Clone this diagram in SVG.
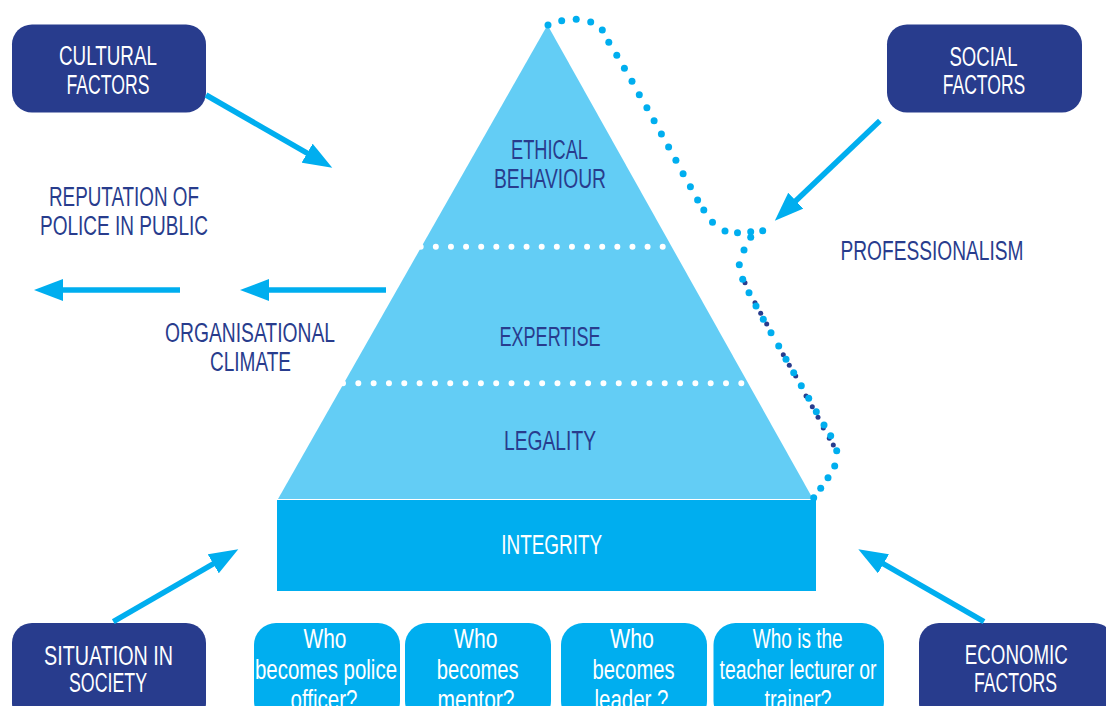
<svg xmlns="http://www.w3.org/2000/svg" width="1106" height="706" viewBox="0 0 1106 706">
<style>
text{font-family:"Liberation Sans",Arial,sans-serif;font-size:27px;text-anchor:middle}
.w{fill:#ffffff}
.n{fill:#283C8D}
.nb{fill:#283C8D}
.qb{fill:#00AEEF}
.arr{stroke:#00AEEF;stroke-width:5.5;fill:none;marker-end:url(#ah)}
.wd{stroke:#ffffff;stroke-width:6;stroke-linecap:round;fill:none}
.ld{fill:#00AEEF}
.dd{fill:#283C8D}
</style>
<defs>
<marker id="ah" markerUnits="userSpaceOnUse" markerWidth="30" markerHeight="22" refX="1" refY="11" orient="auto">
<path d="M0,0 L29,11 L0,22 z" fill="#00AEEF"/>
</marker>
</defs>
<rect width="1106" height="706" fill="#ffffff"/>

<g id="pyramid">
<polygon points="547.5,25 278,499 813,499" fill="#63CDF5"/>
<path class="wd" d="M420.7,246.7 h242.3" stroke-dasharray="0 15.125"/>
<path class="wd" d="M343,383.3 h398.6" stroke-dasharray="0 15.32"/>
<text class="n" x="549.5" y="159" textLength="77" lengthAdjust="spacingAndGlyphs">ETHICAL</text>
<text class="n" x="550" y="188" textLength="112" lengthAdjust="spacingAndGlyphs">BEHAVIOUR</text>
<text class="n" x="550" y="345.5" textLength="101" lengthAdjust="spacingAndGlyphs">EXPERTISE</text>
<text class="n" x="550" y="450" textLength="92" lengthAdjust="spacingAndGlyphs">LEGALITY</text>
</g>

<g id="integrity">
<rect x="277" y="500" width="539" height="91" fill="#00AEEF"/>
<text class="w" x="551.7" y="554" textLength="101" lengthAdjust="spacingAndGlyphs">INTEGRITY</text>
</g>

<g id="bracket">
<circle class="dd" cx="745" cy="282.7" r="2.5"/>
<circle class="dd" cx="755" cy="302.7" r="2.5"/>
<circle class="dd" cx="760.7" cy="313.3" r="2.5"/>
<circle class="dd" cx="766.7" cy="324" r="2.5"/>
<circle class="dd" cx="783.3" cy="354.7" r="2.5"/>
<circle class="dd" cx="789.3" cy="365.3" r="2.5"/>
<circle class="dd" cx="795.7" cy="376" r="2.5"/>
<circle class="dd" cx="806" cy="396" r="2.5"/>
<circle class="dd" cx="812.3" cy="406.7" r="2.5"/>
<circle class="dd" cx="818" cy="417.3" r="2.5"/>
<circle class="dd" cx="823.3" cy="428" r="2.5"/>
<circle class="dd" cx="829.3" cy="438.3" r="2.5"/>
<circle class="dd" cx="833.3" cy="445" r="2.5"/>
<circle class="ld" cx="548" cy="25" r="3.5"/>
<circle class="ld" cx="561.7" cy="20.7" r="3.5"/>
<circle class="ld" cx="576.2" cy="19.3" r="3.5"/>
<circle class="ld" cx="590.7" cy="22" r="3.5"/>
<circle class="ld" cx="602.3" cy="30" r="3.5"/>
<circle class="ld" cx="608.8" cy="42.3" r="3.5"/>
<circle class="ld" cx="616.8" cy="55.3" r="3.5"/>
<circle class="ld" cx="624.4" cy="68.3" r="3.5"/>
<circle class="ld" cx="632" cy="81.3" r="3.5"/>
<circle class="ld" cx="639.3" cy="94.7" r="3.5"/>
<circle class="ld" cx="646.9" cy="107.7" r="3.5"/>
<circle class="ld" cx="654.1" cy="120.7" r="3.5"/>
<circle class="ld" cx="661.4" cy="134" r="3.5"/>
<circle class="ld" cx="668.6" cy="147" r="3.5"/>
<circle class="ld" cx="675.9" cy="160.3" r="3.5"/>
<circle class="ld" cx="683.1" cy="173.7" r="3.5"/>
<circle class="ld" cx="690.4" cy="186.7" r="3.5"/>
<circle class="ld" cx="697.6" cy="200" r="3.5"/>
<circle class="ld" cx="703.8" cy="210" r="3.5"/>
<circle class="ld" cx="712.5" cy="222.3" r="3.5"/>
<circle class="ld" cx="725" cy="231" r="3.5"/>
<circle class="ld" cx="737.5" cy="232.7" r="3.5"/>
<circle class="ld" cx="750.7" cy="231.7" r="3.5"/>
<circle class="ld" cx="762.7" cy="230.7" r="3.5"/>
<circle class="ld" cx="750.7" cy="237.3" r="3.5"/>
<circle class="ld" cx="744" cy="250" r="3.5"/>
<circle class="ld" cx="739.3" cy="264.7" r="3.5"/>
<circle class="ld" cx="742.7" cy="279.3" r="3.5"/>
<circle class="ld" cx="749" cy="292.7" r="3.5"/>
<circle class="ld" cx="756" cy="306" r="3.5"/>
<circle class="ld" cx="763.3" cy="319.3" r="3.5"/>
<circle class="ld" cx="771" cy="332.7" r="3.5"/>
<circle class="ld" cx="778.7" cy="346" r="3.5"/>
<circle class="ld" cx="786" cy="359.3" r="3.5"/>
<circle class="ld" cx="793.7" cy="372.7" r="3.5"/>
<circle class="ld" cx="801.3" cy="385.7" r="3.5"/>
<circle class="ld" cx="808.7" cy="398.3" r="3.5"/>
<circle class="ld" cx="816.3" cy="411.7" r="3.5"/>
<circle class="ld" cx="824" cy="425" r="3.5"/>
<circle class="ld" cx="830.7" cy="435.7" r="3.5"/>
<circle class="ld" cx="836.7" cy="450.7" r="3.5"/>
<circle class="ld" cx="834.7" cy="466" r="3.5"/>
<circle class="ld" cx="828" cy="477.7" r="3.5"/>
<circle class="ld" cx="820.7" cy="488.3" r="3.5"/>
<circle class="ld" cx="813.7" cy="497.7" r="3.5"/>
</g>

<g id="cultural">
<rect class="nb" x="12" y="24.5" width="194" height="88" rx="20"/>
<text class="w" x="108" y="65" textLength="98" lengthAdjust="spacingAndGlyphs">CULTURAL</text>
<text class="w" x="108" y="94" textLength="83" lengthAdjust="spacingAndGlyphs">FACTORS</text>
</g>

<g id="social">
<rect class="nb" x="887" y="24.5" width="195" height="88" rx="20"/>
<text class="w" x="983.5" y="65.5" textLength="68" lengthAdjust="spacingAndGlyphs">SOCIAL</text>
<text class="w" x="984" y="94.3" textLength="82.5" lengthAdjust="spacingAndGlyphs">FACTORS</text>
</g>

<g id="situation">
<rect class="nb" x="12" y="623" width="194" height="100" rx="20"/>
<text class="w" x="108.5" y="665" textLength="129" lengthAdjust="spacingAndGlyphs">SITUATION IN</text>
<text class="w" x="108" y="691.7" textLength="78" lengthAdjust="spacingAndGlyphs">SOCIETY</text>
</g>

<g id="economic">
<rect class="nb" x="919" y="623" width="195" height="100" rx="20"/>
<text class="w" x="1016.3" y="664" textLength="103" lengthAdjust="spacingAndGlyphs">ECONOMIC</text>
<text class="w" x="1015.5" y="691.7" textLength="83" lengthAdjust="spacingAndGlyphs">FACTORS</text>
</g>

<g id="professionalism">
<text class="n" x="932" y="260" textLength="183" lengthAdjust="spacingAndGlyphs">PROFESSIONALISM</text>
</g>

<g id="reputation">
<text class="n" x="124" y="206" textLength="150" lengthAdjust="spacingAndGlyphs">REPUTATION OF</text>
<text class="n" x="124" y="235" textLength="168" lengthAdjust="spacingAndGlyphs">POLICE IN PUBLIC</text>
</g>

<g id="organisational">
<text class="n" x="250" y="341.5" textLength="170" lengthAdjust="spacingAndGlyphs">ORGANISATIONAL</text>
<text class="n" x="250.5" y="371" textLength="81" lengthAdjust="spacingAndGlyphs">CLIMATE</text>
</g>

<g id="q-officer">
<rect class="qb" x="254" y="623" width="146" height="100" rx="22"/>
<text class="w" x="325" y="648.3" textLength="43" lengthAdjust="spacingAndGlyphs">Who</text>
<text class="w" x="326" y="678.5" textLength="142" lengthAdjust="spacingAndGlyphs">becomes police</text>
<text class="w" x="324" y="708.5" textLength="67" lengthAdjust="spacingAndGlyphs">officer?</text>
</g>

<g id="q-mentor">
<rect class="qb" x="405" y="623" width="146" height="100" rx="22"/>
<text class="w" x="475.7" y="648.3" textLength="43.5" lengthAdjust="spacingAndGlyphs">Who</text>
<text class="w" x="477.7" y="678.5" textLength="82" lengthAdjust="spacingAndGlyphs">becomes</text>
<text class="w" x="476" y="708.5" textLength="77" lengthAdjust="spacingAndGlyphs">mentor?</text>
</g>

<g id="q-leader">
<rect class="qb" x="561" y="623" width="146" height="100" rx="22"/>
<text class="w" x="632" y="648.3" textLength="44" lengthAdjust="spacingAndGlyphs">Who</text>
<text class="w" x="633.6" y="678.5" textLength="82" lengthAdjust="spacingAndGlyphs">becomes</text>
<text class="w" x="631.5" y="708.5" textLength="74" lengthAdjust="spacingAndGlyphs">leader ?</text>
</g>

<g id="q-teacher">
<rect class="qb" x="713.5" y="623" width="170.5" height="100" rx="22"/>
<text class="w" x="797.7" y="648.3" textLength="90" lengthAdjust="spacingAndGlyphs">Who is the</text>
<text class="w" x="798" y="678.5" textLength="157" lengthAdjust="spacingAndGlyphs">teacher lecturer or</text>
<text class="w" x="798" y="708.5" textLength="67" lengthAdjust="spacingAndGlyphs">trainer?</text>
</g>

<g id="connectors">
<line class="arr" x1="206" y1="95" x2="308" y2="153.7"/>
<line class="arr" x1="879.9" y1="120.7" x2="795.1" y2="201.4"/>
<line class="arr" x1="113.3" y1="621.7" x2="214.1" y2="563.3"/>
<line class="arr" x1="984" y1="621.7" x2="882.6" y2="563.3"/>
<line class="arr" x1="386" y1="290" x2="268" y2="290"/>
<line class="arr" x1="180" y1="290" x2="62" y2="290"/>
</g>
</svg>
